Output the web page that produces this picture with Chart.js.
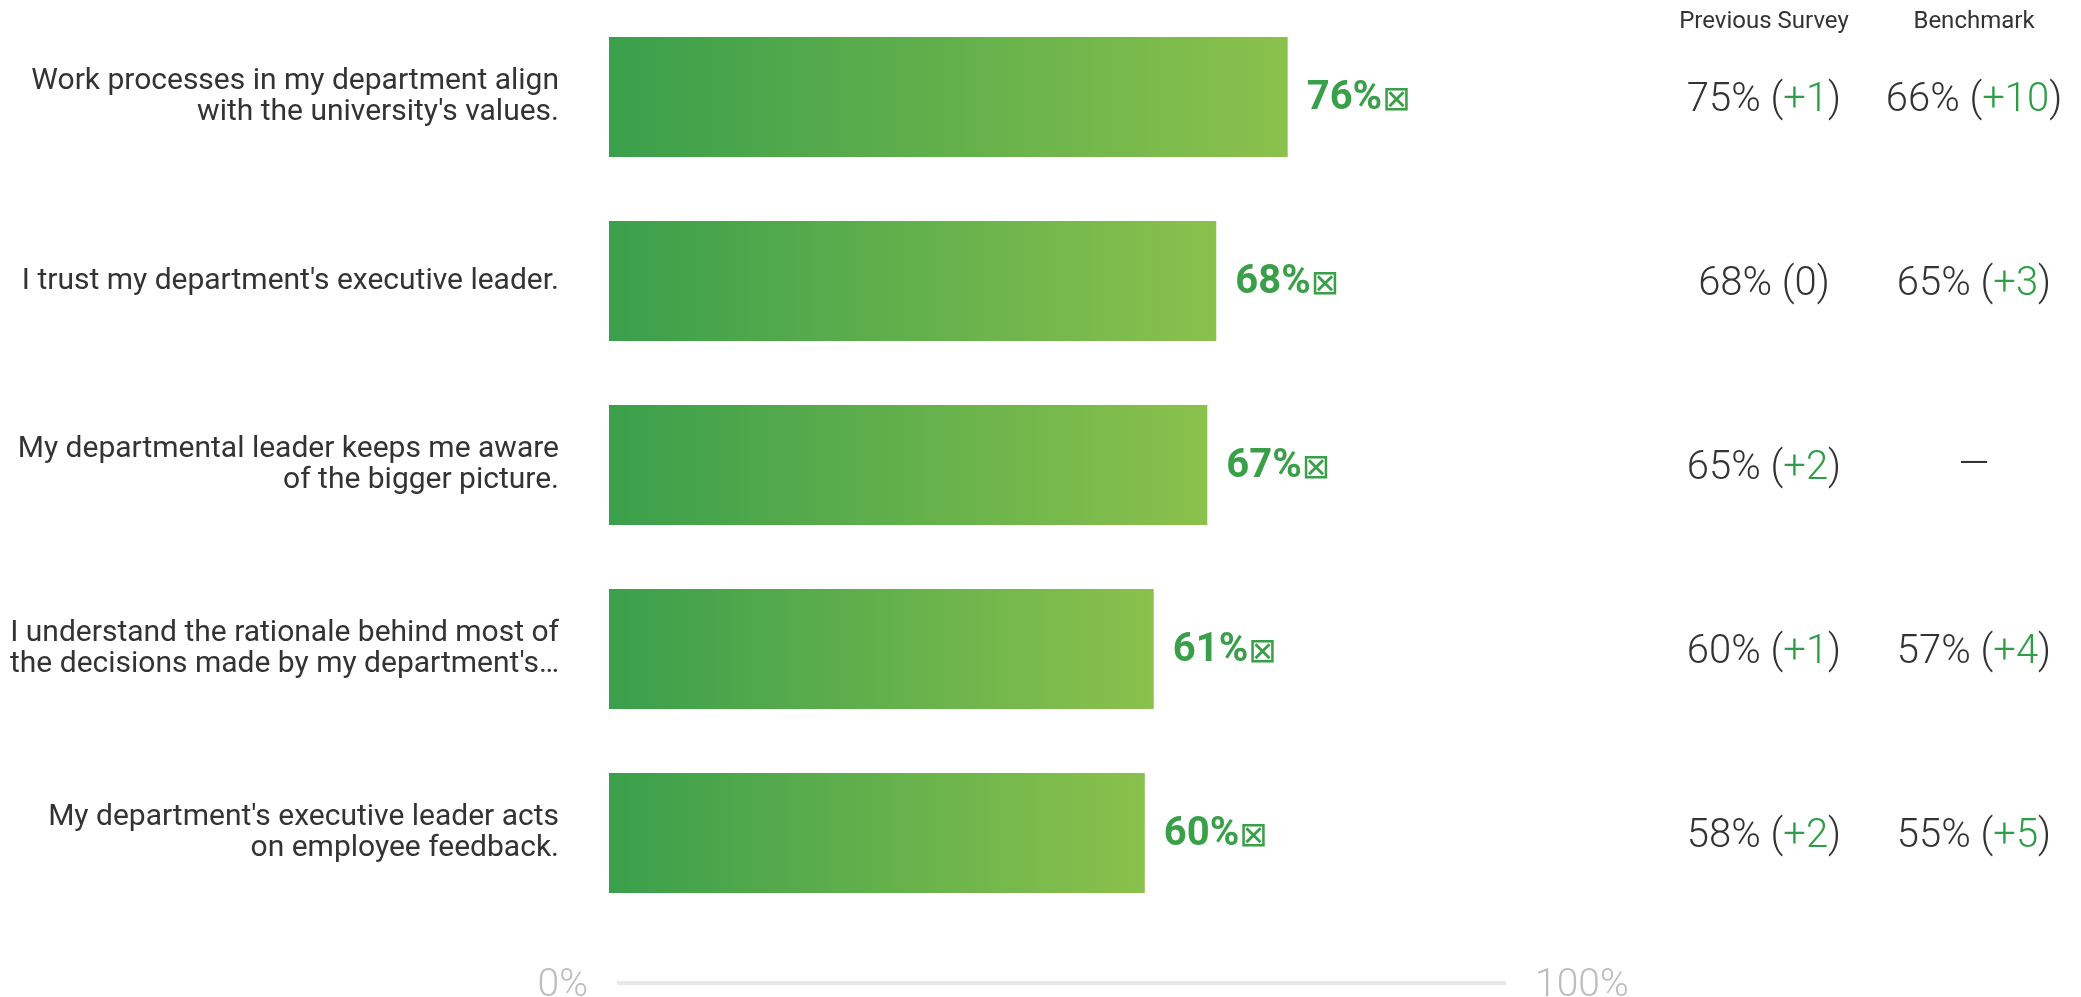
<!DOCTYPE html>
<html>
<head>
<meta charset="utf-8">
<title>Leadership survey results</title>
<script src="https://cdn.jsdelivr.net/npm/chart.js@4.4.1/dist/chart.umd.min.js"></script>
<style>
  html, body { margin: 0; padding: 0; background: #ffffff; }
  #wrap { position: relative; width: 2081px; height: 997px; }
</style>
</head>
<body>
<div id="wrap"><canvas id="chart"></canvas></div>
<script>
// Survey items (each entry is the list of wrapped lines)
const categories = [
  ["Work processes in my department align", "with the university's values."],
  ["I trust my department's executive leader."],
  ["My departmental leader keeps me aware", "of the bigger picture."],
  ["I understand the rationale behind most of", "the decisions made by my department's\u2026"],
  ["My department's executive leader acts", "on employee feedback."]
];
// Favourable score for the current survey (%)
const scores = [76, 68, 67, 61, 60];
// Favourable score in the previous survey (%)
const previousScores = [75, 68, 65, 60, 58];
// Benchmark score (%), null where no benchmark exists
const benchmarkScores = [66, 65, null, 57, 55];
// Column headings and axis end labels
const columnHeaders = ["Previous Survey", "Benchmark"];
const axisLabels = ["0%", "100%"];

const GREEN_TEXT = '#3a9f49';
const DELTA_GREEN = '#2e9e46';
const DARK = '#333333';

function barGradient(ctx) {
  const chart = ctx.chart;
  if (!chart.chartArea || ctx.raw == null) return '#3ea04b';
  const xs = chart.scales.x;
  const x0 = xs.getPixelForValue(0);
  const x1 = xs.getPixelForValue(ctx.raw);
  const g = chart.ctx.createLinearGradient(x0, 0, x1, 0);
  g.addColorStop(0, '#3a9f4b');
  g.addColorStop(1, '#8bc14c');
  return g;
}

// Score text with its box marker to the right of each bar
const valueLabels = {
  id: 'valueLabels',
  afterDatasetsDraw(chart) {
    const c = chart.ctx;
    const meta = chart.getDatasetMeta(0);
    c.save();
    meta.data.forEach((bar, i) => {
      const x = bar.x + 19;
      const base = bar.y + 12;
      c.fillStyle = GREEN_TEXT;
      c.textAlign = 'left';
      c.textBaseline = 'alphabetic';
      c.font = '700 40px Roboto';
      const txt = scores[i] + '%';
      c.fillText(txt, x, base);
      const w = c.measureText(txt).width;
      c.font = '34px "DejaVu Sans"';
      c.fillText('\u22A0', x + w, base + 1);
    });
    c.restore();
  }
};

// Draws "75% (+1)" style text centred on cx, with the change coloured
function drawComparison(c, cx, base, value, current) {
  c.font = '300 40px Roboto';
  if (value == null) {
    c.fillStyle = DARK;
    c.textAlign = 'center';
    c.fillText('\u2014', cx, base - 2);
    return;
  }
  const diff = current - value;
  const parts = [
    [value + '% (', DARK],
    [diff > 0 ? '+' + diff : String(diff), diff > 0 ? DELTA_GREEN : (diff < 0 ? '#c0392b' : DARK)],
    [')', DARK]
  ];
  c.textAlign = 'left';
  const total = parts.reduce((s, p) => s + c.measureText(p[0]).width, 0);
  let x = cx - total / 2;
  parts.forEach(([t, col]) => {
    c.fillStyle = col;
    c.fillText(t, x, base);
    x += c.measureText(t).width;
  });
}

// Previous survey and benchmark columns on the right
const comparisonColumns = {
  id: 'comparisonColumns',
  afterDraw(chart) {
    const c = chart.ctx;
    const ys = chart.scales.y;
    const cols = [1764, 1974];
    c.save();
    c.textBaseline = 'alphabetic';
    c.font = '24px Roboto';
    c.fillStyle = DARK;
    c.textAlign = 'center';
    columnHeaders.forEach((h, k) => c.fillText(h, cols[k], 28));
    categories.forEach((_, i) => {
      const base = ys.getPixelForValue(i) + 14;
      drawComparison(c, cols[0], base, previousScores[i], scores[i]);
      drawComparison(c, cols[1], base, benchmarkScores[i], scores[i]);
    });
    c.restore();
  }
};

// 0% – 100% scale strip under the bars
const scaleStrip = {
  id: 'scaleStrip',
  afterDraw(chart) {
    const c = chart.ctx;
    const xs = chart.scales.x;
    const x0 = xs.getPixelForValue(0);
    const x1 = xs.getPixelForValue(100);
    const y = 983;
    c.save();
    c.strokeStyle = '#e8e8e8';
    c.lineWidth = 4;
    c.beginPath();
    c.moveTo(x0 + 8, y);
    c.lineTo(x1 + 4, y);
    c.stroke();
    c.font = '300 39px Roboto';
    c.fillStyle = '#bdbdbd';
    c.textBaseline = 'alphabetic';
    c.textAlign = 'right';
    c.fillText(axisLabels[0], x0 - 21, 996);
    c.textAlign = 'left';
    c.fillText(axisLabels[1], x1 + 33, 996);
    c.restore();
  }
};

function build() {
  new Chart(document.getElementById('chart'), {
    type: 'bar',
    data: {
      labels: categories,
      datasets: [{
        data: scores,
        backgroundColor: barGradient,
        borderWidth: 0,
        barPercentage: 0.652,
        categoryPercentage: 1.0
      }]
    },
    options: {
      indexAxis: 'y',
      responsive: true,
      maintainAspectRatio: false,
      animation: false,
      events: [],
      layout: { padding: { left: 0, right: 579, top: 5, bottom: 72 } },
      plugins: { legend: { display: false }, tooltip: { enabled: false } },
      scales: {
        x: { display: false, min: 0, max: 100 },
        y: {
          position: 'left',
          grid: { display: false, drawTicks: false },
          border: { display: false },
          ticks: {
            color: DARK,
            padding: 50,
            font: { family: 'Roboto', size: 30, lineHeight: 1.03 }
          },
          afterFit(scale) {
            scale.width = 609;
            scale.paddingTop = 0;
            scale.paddingBottom = 0;
          }
        }
      }
    },
    plugins: [valueLabels, comparisonColumns, scaleStrip]
  });
}

Promise.all([
  document.fonts.load('30px Roboto'),
  document.fonts.load('300 40px Roboto'),
  document.fonts.load('700 40px Roboto'),
  document.fonts.load('34px "DejaVu Sans"')
]).catch(() => {}).then(build);
</script>
</body>
</html>
